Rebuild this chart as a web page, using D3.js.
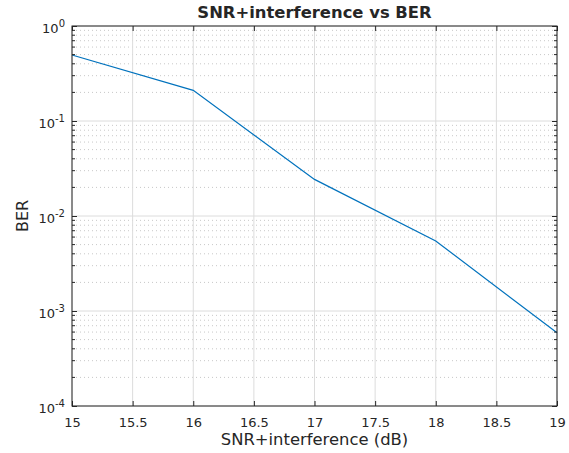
<!DOCTYPE html>
<html>
<head>
<meta charset="utf-8">
<script src="https://cdn.jsdelivr.net/npm/d3@7"></script>
<style>
  body { margin: 0; background: #fff; }
  text { font-family: "DejaVu Sans", sans-serif; fill: #262626; }
</style>
</head>
<body>
<div id="chart"></div>
<script>
// Data
const snr = [15, 16, 17, 18, 19]
const ber = [0.495, 0.21, 0.0243, 0.00546, 0.00059]
const xTicks = [15, 15.5, 16, 16.5, 17, 17.5, 18, 18.5, 19]
const yExponents = [-4, -3, -2, -1, 0]

let dimensions = {
  width: 569,
  height: 453,
  margin: { top: 26, bottom: 47, left: 72, right: 12 }
}

const svg = d3.select('#chart')
  .append('svg')
  .attr('width', dimensions.width)
  .attr('height', dimensions.height)

const w = dimensions.width - dimensions.margin.left - dimensions.margin.right
const h = dimensions.height - dimensions.margin.top - dimensions.margin.bottom

const container = svg.append('g')
  .attr('transform', `translate(${dimensions.margin.left},${dimensions.margin.top})`)

// Scales
const xScale = d3.scaleLinear().domain([15, 19]).range([0, w])
const yScale = d3.scaleLog().domain([1e-4, 1]).range([h, 0])

// minor values for log axis
const minorVals = []
yExponents.slice(0, -1).forEach(e => {
  for (let k = 2; k <= 9; k++) minorVals.push(k * Math.pow(10, e))
})

// Grid: minor dotted
container.append('g')
  .selectAll('line')
  .data(minorVals)
  .join('line')
  .attr('x1', 0).attr('x2', w)
  .attr('y1', d => yScale(d)).attr('y2', d => yScale(d))
  .attr('stroke', '#c8c8c8')
  .attr('stroke-width', 1)
  .attr('stroke-dasharray', '1,3')

// Grid: major solid
container.append('g')
  .selectAll('line')
  .data(xTicks)
  .join('line')
  .attr('x1', d => xScale(d)).attr('x2', d => xScale(d))
  .attr('y1', 0).attr('y2', h)
  .attr('stroke', '#dcdcdc')
  .attr('stroke-width', 1)

container.append('g')
  .selectAll('line')
  .data(yExponents)
  .join('line')
  .attr('x1', 0).attr('x2', w)
  .attr('y1', d => yScale(Math.pow(10, d))).attr('y2', d => yScale(Math.pow(10, d)))
  .attr('stroke', '#dcdcdc')
  .attr('stroke-width', 1)

// Line
const line = d3.line()
  .x((d, i) => xScale(snr[i]))
  .y(d => yScale(d))

container.append('path')
  .datum(ber)
  .attr('d', line)
  .attr('fill', 'none')
  .attr('stroke', '#0072BD')
  .attr('stroke-width', 1.2)

// Axes (ticks inside, box on)
const axisColor = '#262626'
const xAxisBottom = d3.axisBottom(xScale).tickValues(xTicks).tickSizeInner(-5).tickSizeOuter(0)
  .tickFormat(d => d)
const xAxisTop = d3.axisTop(xScale).tickValues(xTicks).tickSizeInner(-5).tickSizeOuter(0).tickFormat('')
const yVals = yExponents.map(e => Math.pow(10, e))
const yAxisLeft = d3.axisLeft(yScale).tickValues(yVals).tickSizeInner(-5).tickSizeOuter(0).tickFormat('')
const yAxisRight = d3.axisRight(yScale).tickValues(yVals).tickSizeInner(-5).tickSizeOuter(0).tickFormat('')

const gx = container.append('g')
  .attr('transform', `translate(0,${h})`)
  .call(xAxisBottom)
gx.selectAll('text')
  .attr('y', 12)
  .attr('font-size', '13px')
  .attr('font-family', 'DejaVu Sans')
  .attr('fill', axisColor)

container.append('g').call(xAxisTop)
const gy = container.append('g').call(yAxisLeft)
container.append('g').attr('transform', `translate(${w},0)`).call(yAxisRight)

// minor ticks on left and right
;[0, w].forEach((xx, j) => {
  container.append('g')
    .selectAll('line')
    .data(minorVals)
    .join('line')
    .attr('x1', xx).attr('x2', j === 0 ? xx + 3 : xx - 3)
    .attr('y1', d => yScale(d)).attr('y2', d => yScale(d))
    .attr('stroke', axisColor)
})

container.selectAll('.domain').attr('stroke', 'none')
container.selectAll('.tick line').attr('stroke', axisColor)

// Box
container.append('rect')
  .attr('width', w).attr('height', h)
  .attr('fill', 'none')
  .attr('stroke', axisColor)
  .attr('stroke-width', 1)

// Y tick labels with superscripts
const yLab = container.append('g')
  .selectAll('text')
  .data(yExponents)
  .join('text')
  .attr('x', -7)
  .attr('y', d => yScale(Math.pow(10, d)) + 7)
  .attr('text-anchor', 'end')
  .attr('font-size', '13px')
yLab.append('tspan').text('10')
yLab.append('tspan')
  .attr('dy', -6)
  .attr('font-size', '10px')
  .text(d => d)

// X Label
container.append('text')
  .attr('x', w / 2)
  .attr('y', h + 39)
  .attr('text-anchor', 'middle')
  .attr('font-size', '16.4px')
  .text('SNR+interference (dB)')

// Y Label
container.append('text')
  .attr('x', -h / 2)
  .attr('y', -44)
  .attr('transform', 'rotate(-90)')
  .attr('text-anchor', 'middle')
  .attr('font-size', '16px')
  .text('BER')

// Title
container.append('text')
  .attr('x', w / 2)
  .attr('y', -8)
  .attr('text-anchor', 'middle')
  .attr('font-size', '16.4px')
  .attr('font-weight', 'bold')
  .attr('fill', '#000')
  .text('SNR+interference vs BER')
</script>
</body>
</html>
